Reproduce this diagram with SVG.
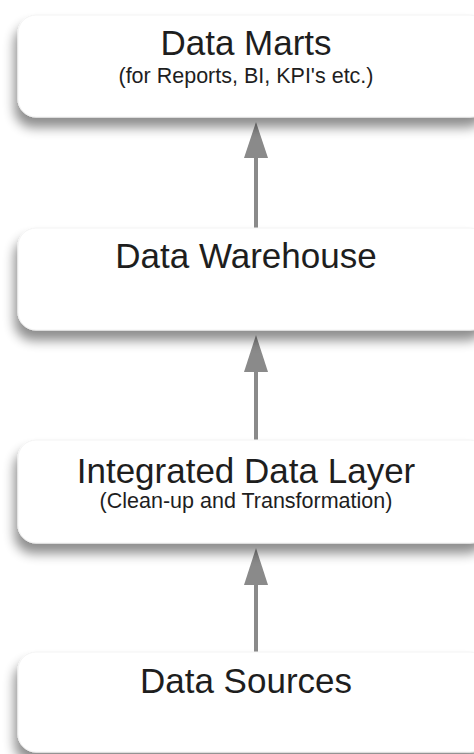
<svg xmlns="http://www.w3.org/2000/svg" width="474" height="754" viewBox="0 0 474 754">
<defs>
<filter id="sh" x="-10%" y="-25%" width="120%" height="170%">
<feGaussianBlur in="SourceAlpha" stdDeviation="6"/>
<feOffset dx="-3" dy="10" result="b"/>
<feComponentTransfer><feFuncA type="linear" slope="0.45"/></feComponentTransfer>
<feMerge><feMergeNode/><feMergeNode in="SourceGraphic"/></feMerge>
</filter>
<style>
.box{fill:#ffffff;stroke:#f3f3f3;stroke-width:1;filter:url(#sh)}
.t{font-family:"Liberation Sans",Arial,sans-serif;font-size:35px;fill:#1e1e1e;text-anchor:middle}
.s{font-family:"Liberation Sans",Arial,sans-serif;font-size:21.5px;fill:#1e1e1e;text-anchor:middle}
.c{stroke:#8a8a8a;stroke-width:4;fill:none}
.h{fill:#8a8a8a}
</style>
</defs>
<rect width="474" height="754" fill="#ffffff"/>
<g id="connectors">
<line class="c" x1="256" y1="228" x2="256" y2="150"/>
<path class="h" d="M244,158 L256,122 L268,158 Z"/>
<line class="c" x1="256" y1="440" x2="256" y2="365"/>
<path class="h" d="M244,372 L256,335 L268,372 Z"/>
<line class="c" x1="256" y1="652" x2="256" y2="578"/>
<path class="h" d="M244,585 L256,548 L268,585 Z"/>
</g>
<g id="data-marts">
<rect class="box" x="18" y="15" width="470" height="102" rx="18"/>
<text class="t" x="246" y="55">Data Marts</text>
<text class="s" x="246" y="83">(for Reports, BI, KPI's etc.)</text>
</g>
<g id="data-warehouse">
<rect class="box" x="18" y="228" width="470" height="102" rx="18"/>
<text class="t" x="246" y="268">Data Warehouse</text>
</g>
<g id="integrated-data-layer">
<rect class="box" x="18" y="440" width="470" height="103" rx="18"/>
<text class="t" x="246" y="483">Integrated Data Layer</text>
<text class="s" x="246" y="508">(Clean-up and Transformation)</text>
</g>
<g id="data-sources">
<rect class="box" x="18" y="652" width="470" height="100" rx="18"/>
<text class="t" x="246" y="693">Data Sources</text>
</g>
</svg>
